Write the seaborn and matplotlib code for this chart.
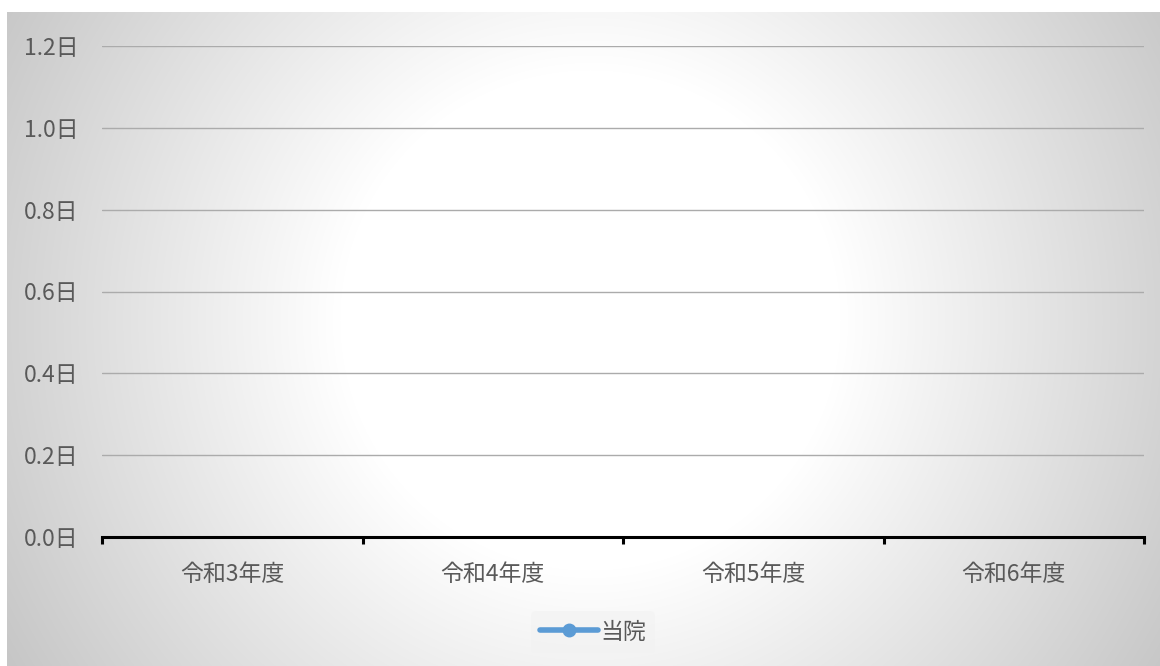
import numpy as np
import pandas as pd
import matplotlib
matplotlib.use('Agg')
import matplotlib.pyplot as plt
import seaborn as sns
from matplotlib.lines import Line2D

# data: no values are shown for any year
years = ['令和3年度', '令和4年度', '令和5年度', '令和6年度']
values = [np.nan, np.nan, np.nan, np.nan]
series_name = '当院'
yticks = [0.0, 0.2, 0.4, 0.6, 0.8, 1.0, 1.2]

sns.set_theme(style='white')
plt.rcParams['font.family'] = ['Noto Sans CJK JP', 'DejaVu Sans']

W, H = 1160, 666
fig = plt.figure(figsize=(W / 100, H / 100), dpi=100)
fig.patch.set_facecolor('white')

# ── radial gradient background (chart area) ──
x0, y0 = 7, 12
bg = fig.add_axes([x0 / W, 0, 1 - x0 / W, (H - y0) / H], zorder=-5)
xs = np.arange(x0, W)
ys = np.arange(y0, H)
X, Y = np.meshgrid(xs, ys)
d = np.hypot(X - 590, Y - 320)
t = np.clip((d - 250) / (670 - 250), 0, 1)
g = 1.0 - t * (1.0 - 0.78)
bg.imshow(np.dstack([g, g, g]), aspect='auto', interpolation='bilinear')
bg.set_axis_off()

# ── main plot ──
ax = fig.add_axes([102 / W, 1 - 537 / H, (1144 - 102) / W, (537 - 46) / H])
ax.set_facecolor('none')
df = pd.DataFrame({'pos': np.arange(len(years)), 'val': values})
sns.lineplot(data=df.dropna(), x='pos', y='val', ax=ax, color='#5B9BD5',
             marker='o', linewidth=3)

ax.set_xlim(-0.5, len(years) - 0.5)
ax.set_ylim(0, 1.2)
ax.set_yticks(yticks)
ax.set_yticklabels([f'{v:.1f}日' for v in yticks])
ax.set_xlabel(''); ax.set_ylabel('')
ax.grid(axis='y', color='#ababab', linewidth=1)
ax.set_axisbelow(True)
for s in ['top', 'right', 'left']:
    ax.spines[s].set_visible(False)
ax.spines['bottom'].set_color('black')
ax.spines['bottom'].set_linewidth(2.2)
ax.spines['bottom'].set_zorder(3)

# boundary ticks (major) and category labels (minor)
ax.set_xticks(np.arange(len(years) + 1) - 0.5)
ax.set_xticklabels([])
ax.set_xticks(np.arange(len(years)), minor=True)
ax.set_xticklabels(years, minor=True)
ax.tick_params(axis='x', which='major', length=5, width=2.2, color='black', direction='out', bottom=True)
ax.tick_params(axis='x', which='minor', length=0, pad=19, labelsize=16.5, labelcolor='#595959')
ax.tick_params(axis='y', length=0, pad=17, labelsize=16.5, labelcolor='#595959')

handle = Line2D([0], [0], color='#5B9BD5', linewidth=4, marker='o', markersize=9)
leg = fig.legend([handle], [series_name], loc='center', bbox_to_anchor=(593 / W, 1 - 632 / H),
                 frameon=True, fontsize=16.5, handlelength=2.5, handletextpad=0.1,
                 facecolor='#f2f2f2', edgecolor='none', framealpha=0.6, borderpad=0.4)
for txt in leg.get_texts():
    txt.set_color('#595959')

fig.savefig('out.png', dpi=100)
